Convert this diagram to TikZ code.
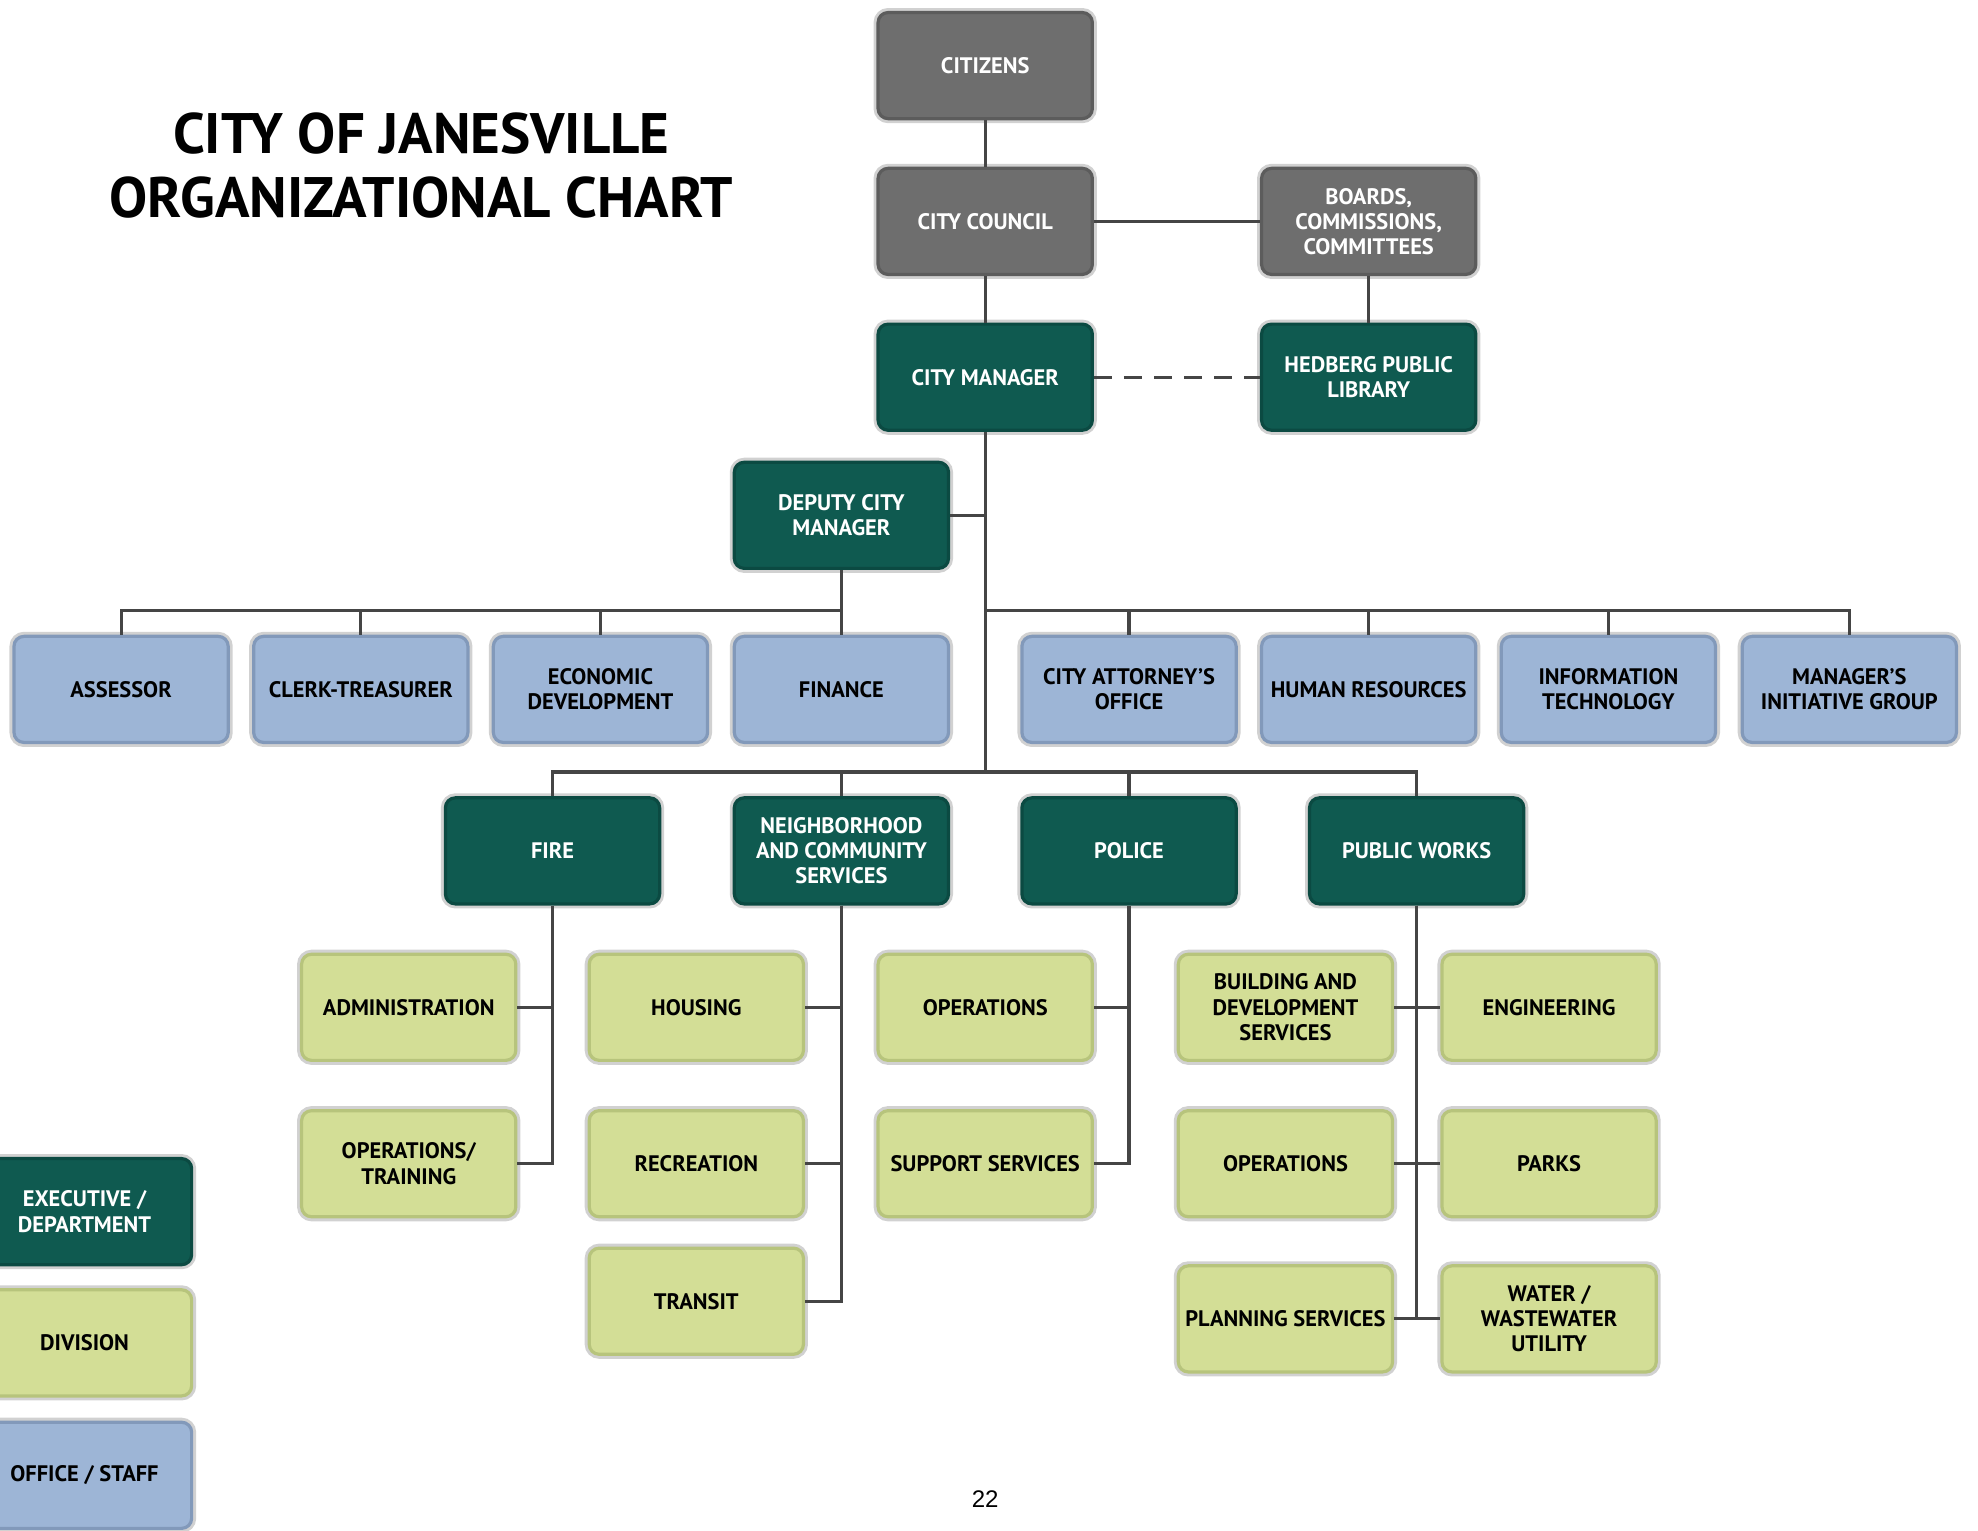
\documentclass[tikz,border=0pt]{standalone}
\usepackage{fontspec}
\setmainfont{PT Sans}
\newfontfamily\pagefont{Liberation Sans}
\usetikzlibrary{positioning}
\definecolor{boardgrey}{HTML}{6E6E6E}
\definecolor{boardline}{HTML}{5C5C5C}
\definecolor{deptteal}{HTML}{0F5A50}
\definecolor{deptline}{HTML}{0B4A42}
\definecolor{divgreen}{HTML}{D3DE96}
\definecolor{divline}{HTML}{B7C47C}
\definecolor{staffblue}{HTML}{9DB5D6}
\definecolor{staffline}{HTML}{8299BA}
\definecolor{linkgrey}{HTML}{454545}
\tikzset{orgbox/.style={rectangle,rounded corners=5pt,minimum width=107pt,minimum height=53pt,
        align=center,inner sep=2pt,line width=1.6pt,font=\fontsize{11.2}{12.6}\selectfont\bfseries,
        preaction={draw=black!18,line width=4.5pt}},
    topbox/.style={orgbox,fill=boardgrey,draw=boardline,text=white},
    deptbox/.style={orgbox,fill=deptteal,draw=deptline,text=white},
    divbox/.style={orgbox,fill=divgreen,draw=divline,text=black},
    staffbox/.style={orgbox,fill=staffblue,draw=staffline,text=black},
    link/.style={draw=linkgrey,line width=1.6pt}
}
\begin{document}
\begin{tikzpicture}[x=0.63pt,y=-0.63pt]

\useasboundingbox (0,0) rectangle (1568,1213);

\node (title) at (334,131) [align=center,font=\fontsize{28.5}{32}\selectfont\bfseries]
    {CITY OF JANESVILLE\\ORGANIZATIONAL CHART};

% top of the chart
\node (citizens) at (781,52) [topbox] {CITIZENS};
\node (council) at (781,175.5) [topbox] {CITY COUNCIL};
\node (boards) at (1085,175.5) [topbox] {BOARDS,\\COMMISSIONS,\\COMMITTEES};
\node (manager) at (781,299) [deptbox] {CITY MANAGER};
\node (library) at (1085,299) [deptbox] {HEDBERG PUBLIC\\LIBRARY};
\node (deputy) at (667,408.5) [deptbox] {DEPUTY CITY\\MANAGER};

% offices
\foreach \name/\x/\label in {assessor/96/ASSESSOR,clerk/286/CLERK-TREASURER,
        econ/476/{ECONOMIC\\DEVELOPMENT},finance/667/FINANCE,attorney/895/{CITY ATTORNEY’S\\OFFICE},
        hr/1085/HUMAN RESOURCES,infotech/1275/{INFORMATION\\TECHNOLOGY},mig/1466/{MANAGER’S\\INITIATIVE GROUP}}
    \node (\name) at (\x,546.5) [staffbox] {\label};

% departments
\foreach \name/\x/\label in {fire/438/FIRE,ncs/667/{NEIGHBORHOOD\\AND COMMUNITY\\SERVICES},
        police/895/POLICE,pworks/1123/PUBLIC WORKS}
    \node (\name) at (\x,674.5) [deptbox] {\label};

% divisions
\node (admin) at (324,798.5) [divbox] {ADMINISTRATION};
\node (optrain) at (324,922.5) [divbox] {OPERATIONS/\\TRAINING};
\node (housing) at (552,798.5) [divbox] {HOUSING};
\node (recreation) at (552,922.5) [divbox] {RECREATION};
\node (transit) at (552,1031.5) [divbox] {TRANSIT};
\node (polops) at (781,798.5) [divbox] {OPERATIONS};
\node (support) at (781,922.5) [divbox] {SUPPORT SERVICES};
\node (building) at (1019,798.5) [divbox] {BUILDING AND\\DEVELOPMENT\\SERVICES};
\node (pwops) at (1019,922.5) [divbox] {OPERATIONS};
\node (planning) at (1019,1045.5) [divbox] {PLANNING SERVICES};
\node (engineering) at (1228,798.5) [divbox] {ENGINEERING};
\node (parks) at (1228,922.5) [divbox] {PARKS};
\node (water) at (1228,1045.5) [divbox] {WATER /\\WASTEWATER\\UTILITY};

% legend
\node (legexec) at (67,960.5) [deptbox] {EXECUTIVE /\\DEPARTMENT};
\node (legdiv) at (67,1064.5) [divbox] {DIVISION};
\node (legstaff) at (67,1169.5) [staffbox] {OFFICE / STAFF};

\node (pagenum) at (781,1188) [font=\pagefont\fontsize{12}{14}\selectfont] {22};

% connectors
\coordinate (leftbus) at (667,484);
\coordinate (rightbus) at (781,484);
\coordinate (deptbus) at (781,612);

\draw [link] (citizens) -- (council);
\draw [link] (council) -- (manager);
\draw [link] (council) -- (boards);
\draw [link] (boards) -- (library);
\draw [link,dash pattern=on 9pt off 6pt] (manager) -- (library);
\draw [link] (manager.south) -- (deptbus);
\draw [link] (deputy.east) -- (deputy.east -| manager.south);
\draw [link] (deputy.south) -- (leftbus);

\foreach \n in {assessor,clerk,econ,finance}
    \draw [link] (leftbus) -| (\n.north);
\foreach \n in {attorney,hr,infotech,mig}
    \draw [link] (rightbus) -| (\n.north);
\foreach \n in {fire,ncs,police,pworks}
    \draw [link] (deptbus) -| (\n.north);

\foreach \d/\n in {fire/admin,fire/optrain,ncs/housing,ncs/recreation,ncs/transit,
        police/polops,police/support,pworks/building,pworks/pwops,pworks/planning}
    \draw [link] (\d.south) |- (\n.east);
\foreach \n in {engineering,parks,water}
    \draw [link] (pworks.south) |- (\n.west);

\end{tikzpicture}
\end{document}
